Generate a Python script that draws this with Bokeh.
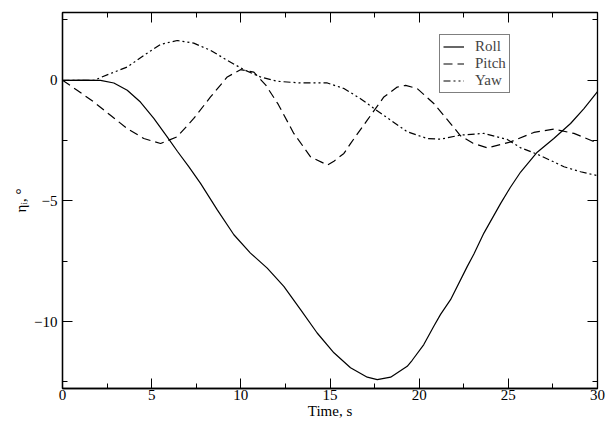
from bokeh.plotting import figure
from bokeh.models import Range1d, FixedTicker, LinearAxis, Legend, LegendItem
from bokeh.embed import file_html
from bokeh.resources import INLINE

# ---- data ----
roll_t = [0, 1, 2.13, 2.88, 3.63, 4.37, 5.12, 5.87, 6.45, 7.1, 7.74, 8.68, 9.61, 10.54,
          11.48, 12.41, 13.35, 14.28, 15.22, 16.15, 17.09, 17.65, 18.4, 19.33, 19.61,
          20.26, 20.82, 21.2, 21.76, 22.7, 23.07, 23.63, 24.57, 25.1, 25.69, 26.62,
          27.55, 28.49, 29.24, 30]
roll_v = [0, 0.01, 0, -0.11, -0.41, -0.9, -1.58, -2.34, -2.95, -3.6, -4.27, -5.37, -6.40,
          -7.16, -7.78, -8.54, -9.50, -10.47, -11.29, -11.91, -12.30, -12.40, -12.30,
          -11.85, -11.6, -10.95, -10.19, -9.7, -9.09, -7.71, -7.2, -6.33, -5.1, -4.45,
          -3.8, -2.98, -2.41, -1.79, -1.17, -0.47]

pitch_t = [0, 0.82, 1.76, 2.69, 3.63, 4.56, 5.5, 6.43, 7.36, 8.3, 9.24, 9.98, 10.73, 11.4,
           12.1, 12.97, 13.91, 14.85, 15.22, 15.78, 16.15, 17.09, 18.02, 18.77, 19.24,
           19.89, 20.82, 21.76, 22.32, 23.0, 23.82, 25.13, 26.43, 27.55, 28.68, 30]
pitch_v = [0, -0.41, -0.9, -1.45, -2.0, -2.41, -2.62, -2.34, -1.58, -0.69, 0.14, 0.44, 0.34,
           -0.2, -1.0, -2.2, -3.17, -3.51, -3.35, -3.03, -2.62, -1.65, -0.69, -0.28, -0.21,
           -0.34, -0.96, -1.79, -2.3, -2.6, -2.80, -2.55, -2.16, -2.02, -2.2, -2.6]

yaw_t = [0, 1.76, 2.69, 3.63, 4.56, 5.5, 6.43, 7.36, 8.3, 9.24, 10.17, 11.1, 12.04, 13.35,
         14.85, 15.78, 16.71, 17.55, 18.4, 19.33, 20.45, 21.2, 22.32, 23.63, 24.94, 25.7,
         26.62, 28.12, 29.05, 30]
yaw_v = [0, 0, 0.28, 0.55, 1.03, 1.49, 1.65, 1.54, 1.24, 0.83, 0.44, 0.14, -0.04, -0.11,
         -0.11, -0.34, -0.76, -1.21, -1.65, -2.13, -2.41, -2.44, -2.27, -2.2, -2.45, -2.8,
         -3.06, -3.58, -3.79, -3.95]

x_major = [0, 5, 10, 15, 20, 25, 30]
x_minor = [2.5, 7.5, 12.5, 17.5, 22.5, 27.5]
y_major = [-10, -5, 0]
y_minor = [-12.5, -7.5, -2.5, 2.5]

FONT = "Liberation Serif"
FS = "15px"

p = figure(width=609, height=421, output_backend="svg", toolbar_location=None,
           x_range=Range1d(0, 30), y_range=Range1d(-12.77, 2.81),
           x_axis_label="Time, s", y_axis_label="ηᵢ, °",
           min_border_left=62, min_border_right=12, min_border_top=12, min_border_bottom=30)
p.grid.visible = False
p.outline_line_color = "black"
p.outline_line_width = 1.3
p.background_fill_color = "white"
p.border_fill_color = "white"

p.xaxis.ticker = FixedTicker(ticks=x_major, minor_ticks=x_minor)
p.yaxis.ticker = FixedTicker(ticks=y_major, minor_ticks=y_minor)

for ax in [p.xaxis[0], p.yaxis[0]]:
    ax.axis_line_color = "black"
    ax.axis_line_width = 1.3
    ax.major_tick_in = 10
    ax.major_tick_out = 0
    ax.minor_tick_in = 5
    ax.minor_tick_out = 0
    ax.major_tick_line_color = "black"
    ax.minor_tick_line_color = "black"
    ax.major_label_text_font = FONT
    ax.major_label_text_font_size = FS
    ax.major_label_text_color = "black"
    ax.axis_label_text_font = FONT
    ax.axis_label_text_font_size = FS
    ax.axis_label_text_font_style = "normal"
    ax.axis_label_text_color = "black"
    ax.major_label_standoff = 1
    ax.axis_label_standoff = 0
p.yaxis[0].major_label_standoff = 5
p.yaxis[0].axis_label_standoff = 2

# mirrored tick axes on top and right (ticks only, labels not drawn)
top = LinearAxis(ticker=FixedTicker(ticks=x_major, minor_ticks=x_minor))
right = LinearAxis(ticker=FixedTicker(ticks=y_major, minor_ticks=y_minor))
for ax in [top, right]:
    ax.axis_line_color = "black"
    ax.major_tick_in = 10
    ax.major_tick_out = 0
    ax.minor_tick_in = 5
    ax.minor_tick_out = 0
    ax.major_label_text_color = None
    ax.major_label_text_font_size = "0px"
    ax.major_label_standoff = 0
p.add_layout(top, "above")
p.add_layout(right, "right")

r1 = p.line(roll_t, roll_v, line_color="black", line_width=1.2)
r2 = p.line(pitch_t, pitch_v, line_color="black", line_width=1.2, line_dash="9 5")
r3 = p.line(yaw_t, yaw_v, line_color="black", line_width=1.2, line_dash="7 3 2 3 2 3")

legend = Legend(items=[LegendItem(label="Roll", renderers=[r1]),
                       LegendItem(label="Pitch", renderers=[r2]),
                       LegendItem(label="Yaw", renderers=[r3])],
                location=(377, 295), margin=0, padding=3, spacing=0,
                glyph_width=21, glyph_height=15, label_height=15, label_standoff=11,
                label_text_font=FONT, label_text_font_size=FS,
                border_line_color="black", border_line_width=1,
                background_fill_color="white", background_fill_alpha=1)
p.add_layout(legend, "center")

open("out.html", "w").write(file_html(p, INLINE))
